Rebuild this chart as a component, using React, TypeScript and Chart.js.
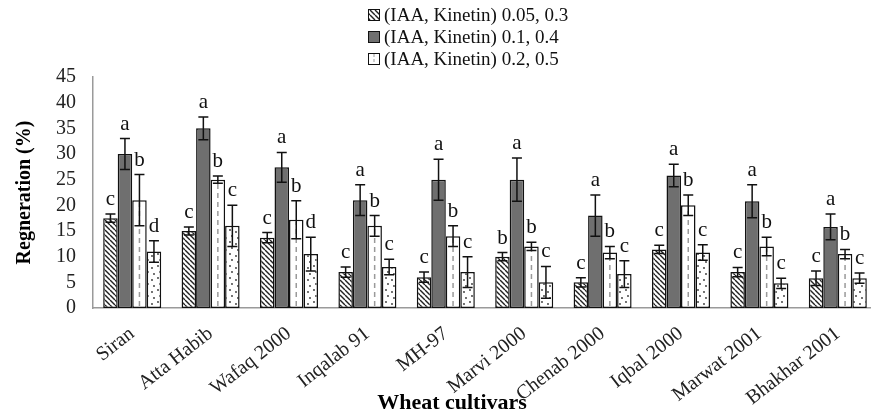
import React, { useEffect, useRef } from "react";
import { Chart, registerables } from "chart.js";

Chart.register(...registerables);

const categories = [
  "Siran",
  "Atta Habib",
  "Wafaq 2000",
  "Inqalab 91",
  "MH-97",
  "Marvi 2000",
  "Chenab 2000",
  "Iqbal 2000",
  "Marwat 2001",
  "Bhakhar 2001",
];
const legendNames = [
  "(IAA, Kinetin) 0.05, 0.3",
  "(IAA, Kinetin) 0.1, 0.4",
  "(IAA, Kinetin) 0.2, 0.5",
];
const series1 = [17.5, 15, 13.7, 7, 6, 10, 5, 11.4, 7, 5.8];
const series2 = [30, 35, 27.4, 21, 25, 25, 18, 25.8, 20.8, 15.8];
const series3 = [21, 25, 17.2, 16, 14, 12, 10.8, 20, 12, 10.5];
const series4 = [11, 16, 10.5, 8, 7, 5, 6.6, 10.8, 4.8, 5.8];
const err1 = [0.8, 0.8, 1, 1, 1, 0.8, 0.9, 0.8, 0.9, 1.4];
const err2 = [3, 2.2, 2.9, 3, 4, 4.2, 4, 2.2, 3.2, 2.5];
const err3 = [5, 0.7, 3.7, 2, 2, 0.8, 1.2, 2, 1.8, 0.9];
const err4 = [2.1, 4, 3.3, 1.5, 3, 3.1, 2.6, 1.5, 1, 1];
const letters1 = ["c", "c", "c", "c", "c", "b", "c", "c", "c", "c"];
const letters2 = ["a", "a", "a", "a", "a", "a", "a", "a", "a", "a"];
const letters3 = ["b", "b", "b", "b", "b", "b", "b", "b", "b", "b"];
const letters4 = ["d", "c", "d", "c", "c", "c", "c", "c", "c", "c"];
const yMin = 0;
const yMax = 45;
const yStep = 5;

const SERIF = "'Liberation Serif', 'Times New Roman', serif";

function makeHatch(): CanvasPattern | string {
  const s = 5;
  const c = document.createElement("canvas");
  c.width = s;
  c.height = s;
  const g = c.getContext("2d");
  if (!g) return "#fff";
  g.fillStyle = "#fff";
  g.fillRect(0, 0, s, s);
  g.strokeStyle = "#222";
  g.lineWidth = 1.4;
  for (let k = -1; k <= 1; k++) {
    g.beginPath();
    g.moveTo(k * s, 0);
    g.lineTo(k * s + s, s);
    g.stroke();
  }
  return g.createPattern(c, "repeat") || "#fff";
}

function makeDots(): CanvasPattern | string {
  const s = 12;
  const c = document.createElement("canvas");
  c.width = s;
  c.height = s;
  const g = c.getContext("2d");
  if (!g) return "#fff";
  g.fillStyle = "#fff";
  g.fillRect(0, 0, s, s);
  g.fillStyle = "#333";
  const pts = [
    [2, 2],
    [8, 4],
    [4, 8],
    [10, 10],
  ];
  pts.forEach(([x, y]) => {
    g.beginPath();
    g.arc(x, y, 0.9, 0, Math.PI * 2);
    g.fill();
  });
  return g.createPattern(c, "repeat") || "#fff";
}

export default function App() {
  const ref = useRef<HTMLCanvasElement | null>(null);

  useEffect(() => {
    const canvas = ref.current;
    if (!canvas) return;
    const hatch = makeHatch();
    const dots = makeDots();
    const errs = [err1, err2, err3, err4];
    const lets = [letters1, letters2, letters3, letters4];
    const fills = [hatch, "#6f6f6f", "#ffffff", dots];

    const overlay = {
      id: "overlay",
      afterDatasetsDraw(chart: any) {
        const ctx = chart.ctx;
        const ys = chart.scales.y;
        const m3 = chart.getDatasetMeta(2);
        ctx.save();
        ctx.strokeStyle = "#9a9a9a";
        ctx.lineWidth = 1.5;
        ctx.setLineDash([5, 4]);
        m3.data.forEach((bar: any) => {
          ctx.beginPath();
          ctx.moveTo(bar.x, bar.base - 2);
          ctx.lineTo(bar.x, bar.y + 2);
          ctx.stroke();
        });
        ctx.restore();
        ctx.save();
        ctx.strokeStyle = "#111";
        ctx.lineWidth = 1.5;
        ctx.fillStyle = "#111";
        ctx.font = `21px ${SERIF}`;
        ctx.textAlign = "center";
        ctx.textBaseline = "alphabetic";
        chart.data.datasets.forEach((ds: any, i: number) => {
          const meta = chart.getDatasetMeta(i);
          meta.data.forEach((bar: any, j: number) => {
            const v = ds.data[j];
            const e = errs[i][j];
            const yt = ys.getPixelForValue(v + e);
            const yb = ys.getPixelForValue(v - e);
            const x = bar.x;
            ctx.beginPath();
            ctx.moveTo(x, yt);
            ctx.lineTo(x, yb);
            ctx.moveTo(x - 5, yt);
            ctx.lineTo(x + 5, yt);
            ctx.moveTo(x - 5, yb);
            ctx.lineTo(x + 5, yb);
            ctx.stroke();
            ctx.fillText(lets[i][j], x, yt - 9);
          });
        });
        ctx.restore();
      },
      afterDraw(chart: any) {
        const ctx = chart.ctx;
        ctx.save();
        ctx.font = `19px ${SERIF}`;
        ctx.textBaseline = "middle";
        ctx.textAlign = "left";
        legendNames.forEach((name, i) => {
          const cy = 15 + i * 22;
          ctx.fillStyle = fills[i];
          ctx.fillRect(368, cy - 6, 12, 12);
          if (i === 2) {
            ctx.save();
            ctx.strokeStyle = "#9a9a9a";
            ctx.setLineDash([3, 2]);
            ctx.beginPath();
            ctx.moveTo(374, cy - 5);
            ctx.lineTo(374, cy + 5);
            ctx.stroke();
            ctx.restore();
          }
          ctx.strokeStyle = "#111";
          ctx.lineWidth = 1;
          ctx.strokeRect(368.5, cy - 5.5, 11, 11);
          ctx.fillStyle = "#111";
          ctx.fillText(name, 384, cy + 1);
        });
        ctx.font = `bold 22px ${SERIF}`;
        ctx.textAlign = "center";
        ctx.fillStyle = "#000";
        ctx.fillText("Wheat cultivars", 452, 403);
        ctx.restore();
      },
    };

    const mk = (data: number[], i: number) => ({
      label: legendNames[i] || "",
      data,
      backgroundColor: fills[i],
      borderColor: "#111",
      borderWidth: 1.5,
      borderSkipped: false,
      categoryPercentage: 0.74,
      barPercentage: 1,
    });

    const chart = new Chart(canvas, {
      type: "bar",
      data: {
        labels: categories,
        datasets: [
          mk(series1, 0),
          mk(series2, 1),
          mk(series3, 2),
          mk(series4, 3),
        ] as any,
      },
      options: {
        animation: false,
        responsive: false,
        devicePixelRatio: 1,
        layout: { padding: { top: 77, right: 3, left: 0, bottom: 0 } },
        plugins: {
          legend: { display: false },
          tooltip: { enabled: false },
        },
        scales: {
          x: {
            grid: { display: false, drawTicks: false },
            border: { display: true, color: "#9a9a9a", width: 1.5 },
            ticks: {
              autoSkip: false,
              minRotation: 38,
              maxRotation: 38,
              padding: 14,
              color: "#222",
              font: { family: SERIF, size: 20 },
            },
            afterFit(scale: any) {
              scale.height = 106;
            },
          },
          y: {
            min: yMin,
            max: yMax,
            grid: { display: false, drawTicks: false },
            border: { display: true, color: "#9a9a9a", width: 1.5 },
            ticks: {
              stepSize: yStep,
              autoSkip: false,
              padding: 17,
              color: "#222",
              font: { family: SERIF, size: 20 },
            },
            title: {
              display: true,
              text: "Regneration (%)",
              color: "#000",
              font: { family: SERIF, size: 20, weight: "bold" },
              padding: { top: 13, bottom: 0 },
            },
            afterFit(scale: any) {
              scale.width = 93;
            },
          },
        },
      } as any,
      plugins: [overlay],
    });

    return () => chart.destroy();
  }, []);

  return (
    <div
      style={{
        position: "absolute",
        left: 0,
        top: 0,
        width: 871,
        height: 414,
        overflow: "hidden",
        background: "#fff",
      }}
    >
      <canvas
        ref={ref}
        width={880}
        height={414}
        style={{ display: "block", width: 880, height: 414 }}
      />
    </div>
  );
}
